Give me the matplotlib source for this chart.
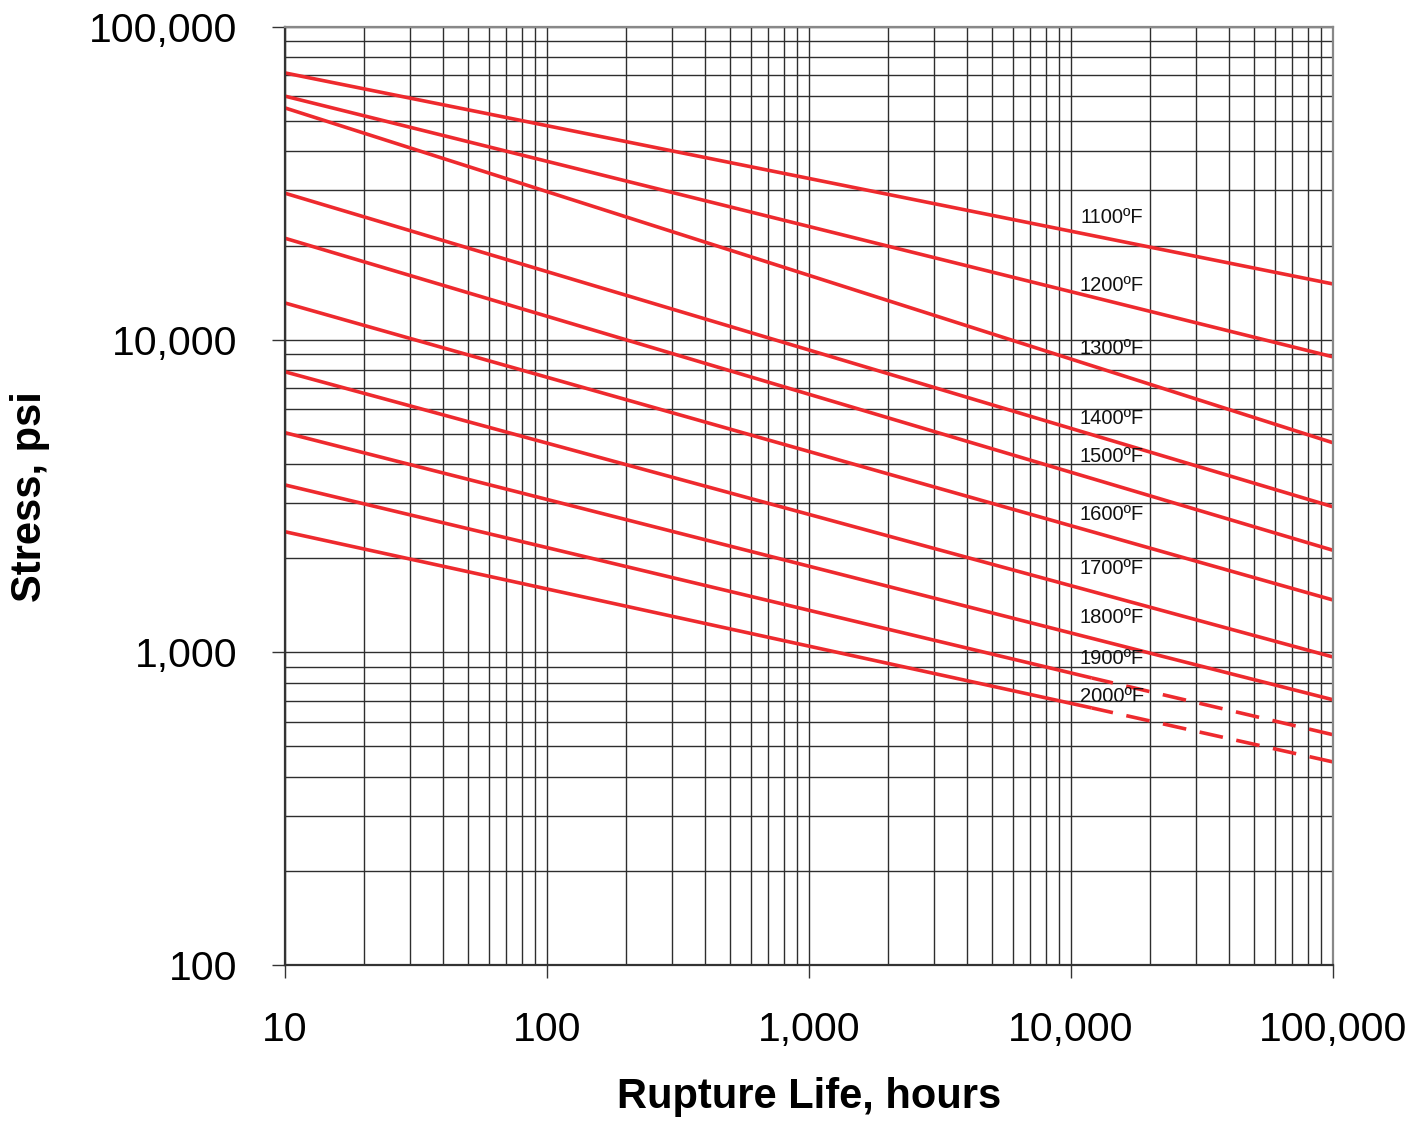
import matplotlib
matplotlib.use("Agg")
import matplotlib.pyplot as plt
from matplotlib.ticker import LogLocator, NullFormatter

plt.rcParams['font.family'] = ['Liberation Sans', 'DejaVu Sans']

# Data (rupture life hours, stress psi)
temps = ["1100ºF", "1200ºF", "1300ºF", "1400ºF", "1500ºF",
         "1600ºF", "1700ºF", "1800ºF", "1900ºF", "2000ºF"]
hours_solid = [10, 100000]
stress_start = [71300, 60100, 55100, 29400, 21100, 13100, 7890, 5040, 3430, 2430]
stress_end = [15070, 8810, 4680, 2920, 2120, 1470, 966, 705, 545, 446]
# 1900 / 2000 F: solid up to break, dashed (extrapolated) beyond
break_hours = 12000
break_stress = {"1900ºF": 828, "2000ºF": 664}

label_hours = 14300
label_stress = [24500, 14850, 9340, 5580, 4217, 2750, 1848, 1288, 953, 720]

x_ticks = [10, 100, 1000, 10000, 100000]
x_ticklabels = ["10", "100", "1,000", "10,000", "100,000"]
y_ticks = [100, 1000, 10000, 100000]
y_ticklabels = ["100", "1,000", "10,000", "100,000"]

RED = '#EE2A2E'

fig = plt.figure(figsize=(14.26, 11.21), dpi=100)
ax = fig.add_axes([0.1999, 0.1392, 0.7349, 0.8367])
ax.set_xscale('log')
ax.set_yscale('log')
ax.set_xlim(10, 100000)
ax.set_ylim(100, 100000)

ax.xaxis.set_minor_locator(LogLocator(base=10, subs=range(2, 10)))
ax.yaxis.set_minor_locator(LogLocator(base=10, subs=range(2, 10)))
ax.xaxis.set_minor_formatter(NullFormatter())
ax.yaxis.set_minor_formatter(NullFormatter())
ax.grid(True, which='both', color='#2e2e2e', linewidth=1.0)
ax.set_axisbelow(True)

for i, t in enumerate(temps):
    if t in break_stress:
        ax.plot([hours_solid[0], break_hours], [stress_start[i], break_stress[t]],
                color=RED, lw=2.6, solid_capstyle='butt')
        ax.plot([break_hours, hours_solid[1]], [break_stress[t], stress_end[i]],
                color=RED, lw=2.6, linestyle=(0.6, (6.6, 3.8)), dash_capstyle='butt')
    else:
        ax.plot(hours_solid, [stress_start[i], stress_end[i]], color=RED, lw=2.6,
                solid_capstyle='butt')
    ax.text(label_hours, label_stress[i], t, fontsize=14.5, ha='center', va='center',
            color='#111111')

ax.set_xticks(x_ticks)
ax.set_xticklabels(x_ticklabels)
ax.set_yticks(y_ticks)
ax.set_yticklabels(y_ticklabels)
ax.tick_params(axis='x', which='major', direction='out', length=9, width=1.0,
               labelsize=29.5, pad=24, color='#333333')
ax.tick_params(axis='y', which='major', direction='out', length=9.5, width=1.0,
               labelsize=29.5, pad=25, color='#333333')
ax.tick_params(which='minor', length=0)

for side in ['left', 'bottom']:
    ax.spines[side].set_color('#333333')
    ax.spines[side].set_linewidth(1.6)
for side in ['top', 'right']:
    ax.spines[side].set_color('#888888')
    ax.spines[side].set_linewidth(1.6)

fig.text(809 / 1426, 1 - 1097 / 1121, "Rupture Life, hours", fontsize=30,
         fontweight='bold', ha='center', va='center')
fig.text(30 / 1426, 1 - 497 / 1121, "Stress, psi", fontsize=30, fontweight='bold',
         ha='center', va='center', rotation=90)

fig.savefig("out.png", dpi=100)
